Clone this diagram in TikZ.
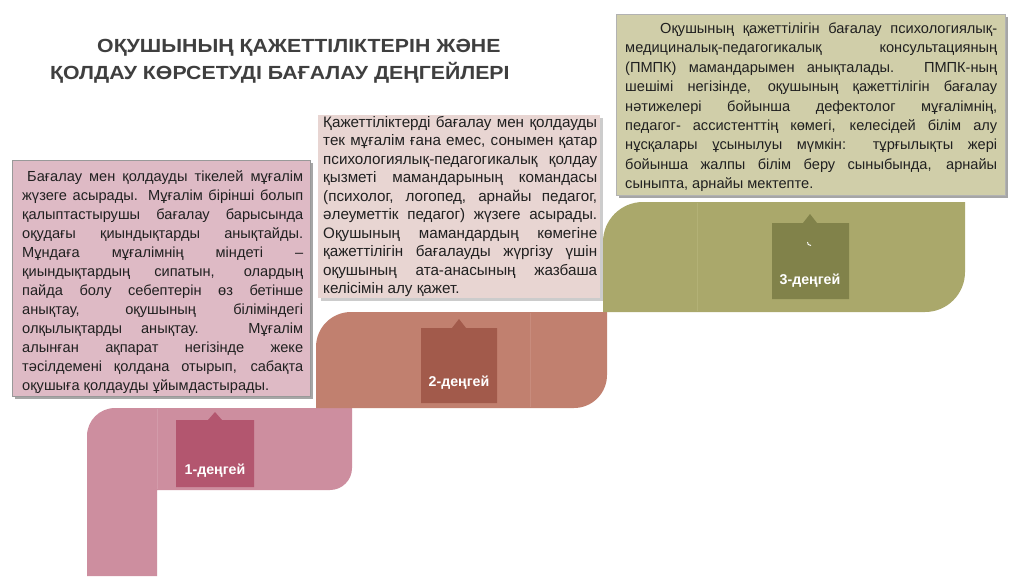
\documentclass[tikz,border=0pt]{standalone}
\usepackage{fontspec}
\setmainfont{Liberation Sans}
\newfontfamily\titlefont[FakeStretch=1.12]{Liberation Sans}
\definecolor{stepA}{HTML}{CD8E9F}
\definecolor{stepAlbl}{HTML}{B3566F}
\definecolor{stepAseam}{HTML}{D39BAA}
\definecolor{stepB}{HTML}{C1806F}
\definecolor{stepBlbl}{HTML}{A25A4B}
\definecolor{stepBseam}{HTML}{C88C7D}
\definecolor{stepC}{HTML}{AAA86B}
\definecolor{stepClbl}{HTML}{81824A}
\definecolor{stepCseam}{HTML}{B3B176}
\definecolor{boxA}{HTML}{DEBAC5}
\definecolor{boxB}{HTML}{E8D5D2}
\definecolor{boxC}{HTML}{D0CEA9}
\definecolor{titlecol}{HTML}{3F3F3F}
\definecolor{bodytxt}{HTML}{202020}
\newcommand{\jl}[2]{\makebox[#1][s]{#2}}
\begin{document}
\begin{tikzpicture}[x=1pt,y=-1pt,
  bodytext/.style={inner sep=0pt, anchor=north west, align=left, text=bodytxt,
    font=\fontsize{14.6}{19}\selectfont},
  lbltext/.style={text=white, inner sep=0pt, font=\bfseries\fontsize{14.2}{16}\selectfont},
  shadowbox/.style={fill=black!35, draw=none},
]
\useasboundingbox (0,0) rectangle (1024,576);
\fill[white] (0,0) rectangle (1024,576);

% ---- steps ----
% step 1
\fill[stepA] (87,576) -- (87,436) arc[start angle=180, end angle=270, radius=28]
  -- (352,408) -- (352,468) arc[start angle=0, end angle=90, radius=22]
  -- (157,490) -- (157,576) -- cycle;
\draw[stepAseam, line width=0.8pt] (157,409) -- (157,489);
% step 2
\fill[stepB] (316,408) -- (316,347) arc[start angle=180, end angle=270, radius=35]
  -- (607,312) -- (607,375) arc[start angle=0, end angle=90, radius=33]
  -- cycle;
\draw[stepBseam, line width=0.8pt] (530,313) -- (530,407);
% step 3
\fill[stepC] (603,312) -- (603,242) arc[start angle=180, end angle=270, radius=40]
  -- (965,202) -- (965,272) arc[start angle=0, end angle=90, radius=40]
  -- cycle;
\draw[stepCseam, line width=0.8pt] (697,203) -- (697,311);

% ---- level labels ----
\fill[stepAlbl] (176,420) -- (208,420) -- (215,412) -- (222,420) -- (254,420) -- (254,487) -- (176,487) -- cycle;
\node[lbltext] (l1) at (215,471) {1-деңгей};
\fill[stepBlbl] (421,328) -- (452,328) -- (459,319) -- (466,328) -- (497,328) -- (497,403) -- (421,403) -- cycle;
\node[lbltext] (l2) at (459,383) {2-деңгей};
\fill[stepClbl] (772,223) -- (803,223) -- (810,214) -- (817,223) -- (849,223) -- (849,299) -- (772,299) -- cycle;
\node[lbltext] (l3) at (810,281) {3-деңгей};
\draw[white, line width=0.9pt] (811,245.5) arc[start angle=80, end angle=190, radius=3];

% ---- title ----
\node[inner sep=0pt, anchor=north west, align=left, text=titlecol,
  font=\titlefont\bfseries\fontsize{19}{27}\selectfont] (title) at (50,39)
  {\hspace*{47pt}ОҚУШЫНЫҢ ҚАЖЕТТІЛІКТЕРІН ЖӘНЕ\\ҚОЛДАУ КӨРСЕТУДІ БАҒАЛАУ ДЕҢГЕЙЛЕРІ};

% ---- text box 1 ----
\fill[shadowbox] (15,163) rectangle (313,399);
\filldraw[fill=boxA, draw=black!40, line width=0.6pt] (12,160) rectangle (310,396);
\node[bodytext] (t1) at (22,170) {%
\jl{281pt}{\hspace*{5pt}Бағалау мен қолдауды тікелей мұғалім}\\
\jl{281pt}{жүзеге асырады. Мұғалім бірінші болып}\\
\jl{281pt}{қалыптастырушы бағалау барысында}\\
\jl{281pt}{оқудағы қиындықтарды анықтайды.}\\
\jl{281pt}{Мұндаға мұғалімнің міндеті –}\\
\jl{281pt}{қиындықтардың сипатын, олардың}\\
\jl{281pt}{пайда болу себептерін өз бетінше}\\
\jl{281pt}{анықтау, оқушының біліміндегі}\\
\jl{281pt}{олқылықтарды анықтау. Мұғалім}\\
\jl{281pt}{алынған ақпарат негізінде жеке}\\
\jl{281pt}{тәсілдемені қолдана отырып, сабақта}\\
оқушыға қолдауды ұйымдастырады.};

% ---- text box 2 ----
\fill[black!20] (321,118) rectangle (603,301);
\fill[boxB] (318,115) rectangle (600,298);
\node[bodytext, font=\fontsize{15.2}{18.5}\selectfont] (t2) at (323,116) {%
\jl{274pt}{Қажеттіліктерді бағалау мен қолдауды}\\
\jl{274pt}{тек мұғалім ғана емес, сонымен қатар}\\
\jl{274pt}{психологиялық-педагогикалық қолдау}\\
\jl{274pt}{қызметі мамандарының командасы}\\
\jl{274pt}{(психолог, логопед, арнайы педагог,}\\
\jl{274pt}{әлеуметтік педагог) жүзеге асырады.}\\
\jl{274pt}{Оқушының мамандардың көмегіне}\\
\jl{274pt}{қажеттілігін бағалауды жүргізу үшін}\\
\jl{274pt}{оқушының ата-анасының жазбаша}\\
келісімін алу қажет.};

% ---- text box 3 ----
\fill[shadowbox] (619,17) rectangle (1008,198);
\filldraw[fill=boxC, draw=black!30, line width=0.6pt] (616,14) rectangle (1005,195);
\node[bodytext, font=\fontsize{14.6}{19.4}\selectfont] (t3) at (625,22.5) {%
\jl{372pt}{\hspace*{35pt}Оқушының қажеттілігін бағалау психологиялық-}\\
\jl{372pt}{медициналық-педагогикалық консультацияның}\\
\jl{372pt}{(ПМПК) мамандарымен анықталады. ПМПК-ның}\\
\jl{372pt}{шешімі негізінде, оқушының қажеттілігін бағалау}\\
\jl{372pt}{нәтижелері бойынша дефектолог мұғалімнің,}\\
\jl{372pt}{педагог- ассистенттің көмегі, келесідей білім алу}\\
\jl{372pt}{нұсқалары ұсынылуы мүмкін: тұрғылықты жері}\\
\jl{372pt}{бойынша жалпы білім беру сыныбында, арнайы}\\
сыныпта, арнайы мектепте.};
\end{tikzpicture}
\end{document}
